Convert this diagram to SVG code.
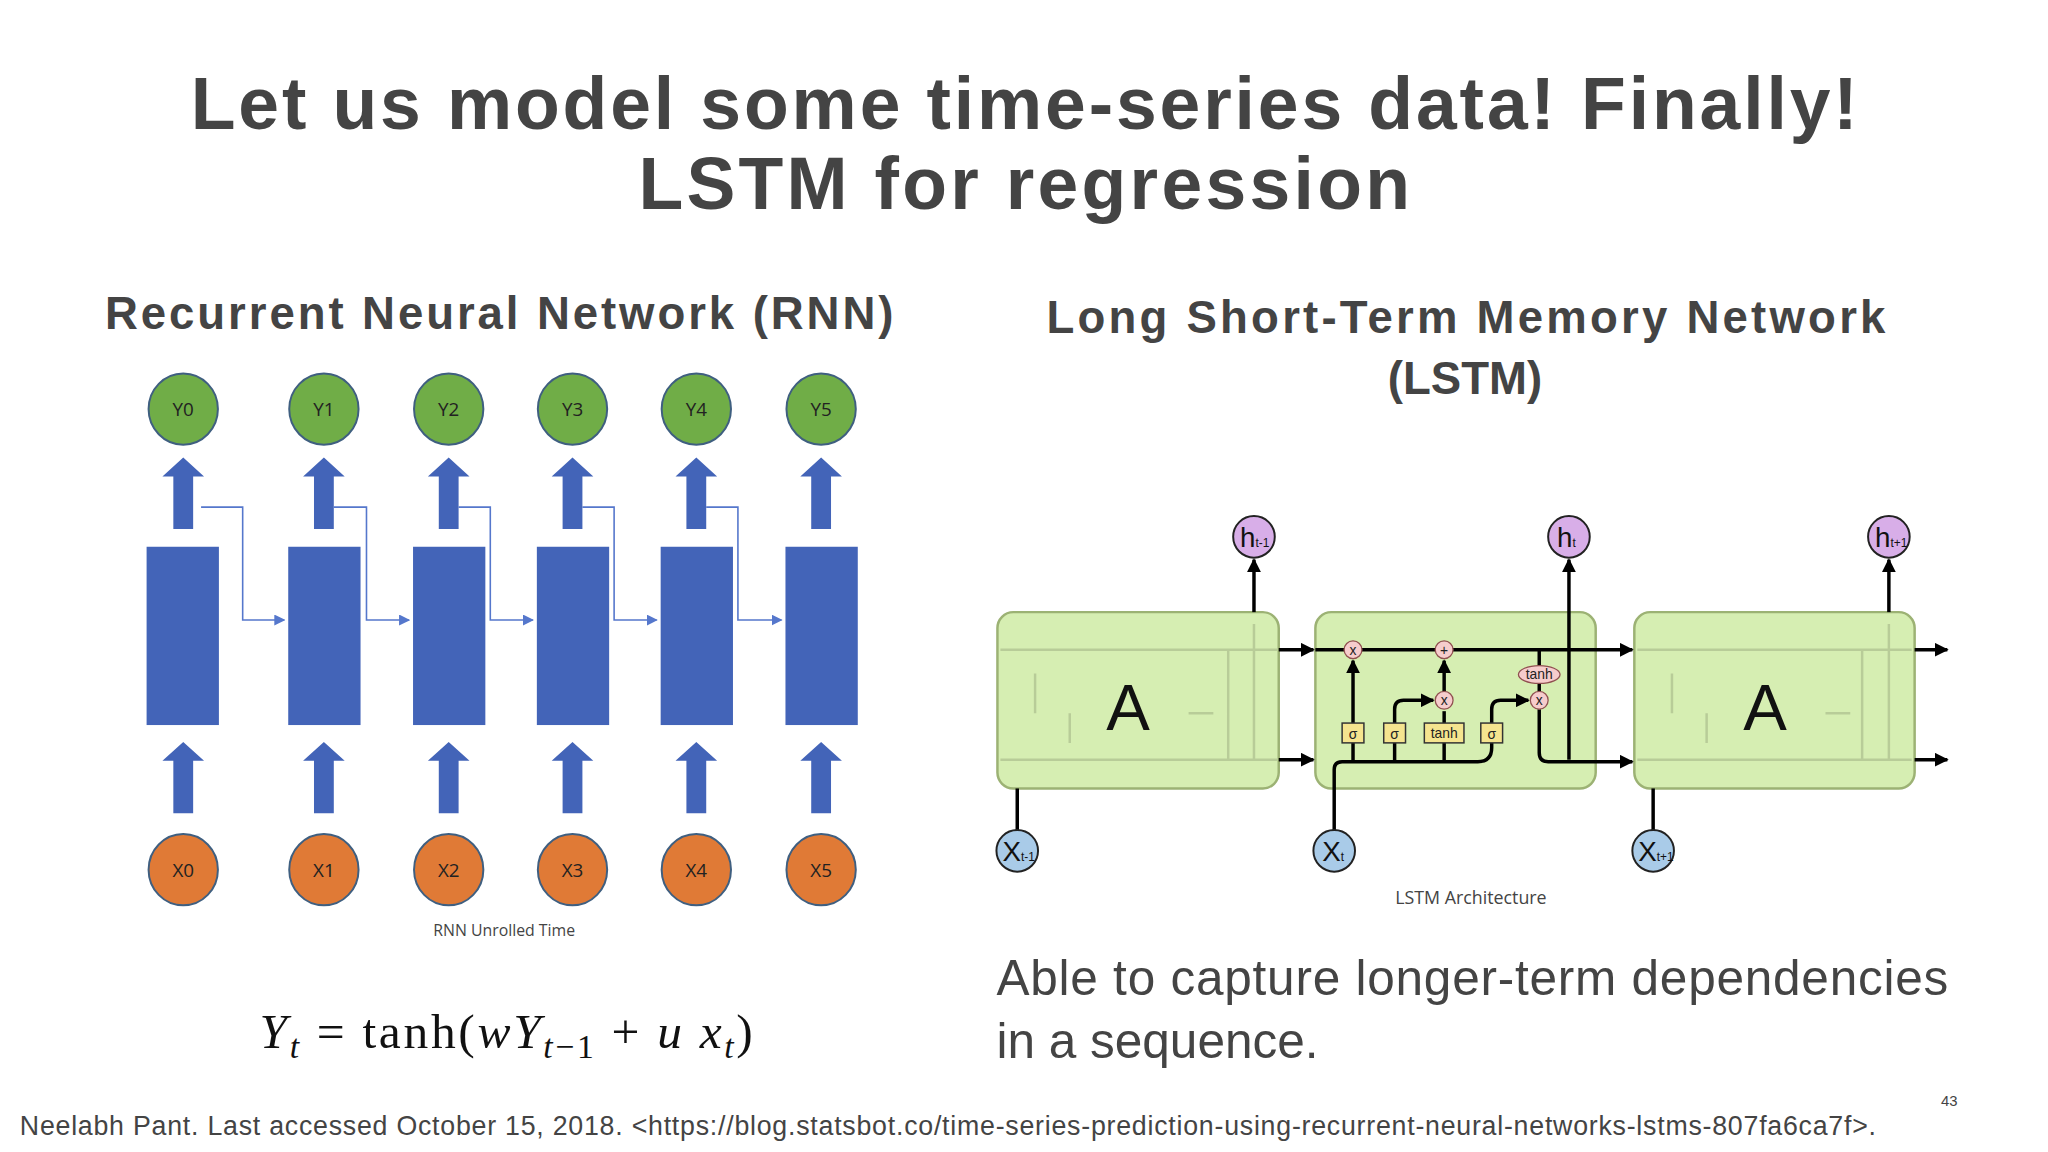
<svg xmlns="http://www.w3.org/2000/svg" width="2048" height="1152" viewBox="0 0 2048 1152">
<defs>
<style>
.t{font-family:"Liberation Sans",Arial,sans-serif;fill:#444}
.b{font-weight:bold}
.yc{fill:#70ad47;stroke:#3f5f80;stroke-width:2}
.xc{fill:#e07a36;stroke:#3f5f80;stroke-width:2}
.cl{font-family:"Open Sans","DejaVu Sans",sans-serif;font-size:19px;fill:#222;text-anchor:middle}
.bar{fill:#4364b8}
.rl{fill:none;stroke:#5577cc;stroke-width:1.6}
.box{fill:#d6eeb2;stroke:#9cb274;stroke-width:2.5}
.ln{fill:none;stroke:#000;stroke-width:3.5}
.fl{fill:none;stroke:#b8cc98;stroke-width:2.5}
.op{fill:#f6cccc;stroke:#905050;stroke-width:1.3}
.g{fill:#f5e48f;stroke:#333;stroke-width:1.5}
.sm{font-family:"Liberation Sans",sans-serif;font-size:14px;fill:#222;text-anchor:middle}
.hc{fill:#d8aee8;stroke:#222;stroke-width:2}
.xb{fill:#a9cbe8;stroke:#222;stroke-width:2}
.lt{font-family:"Liberation Sans Narrow","Liberation Sans",sans-serif;fill:#111}
</style>
<marker id="bh" viewBox="0 0 10 10" refX="9" refY="5" markerWidth="7" markerHeight="7" orient="auto"><path d="M0,0L10,5L0,10z" fill="#5577cc"/></marker>
<marker id="kh" viewBox="0 0 10 10" refX="9" refY="5" markerWidth="4" markerHeight="4" orient="auto"><path d="M0,0L10,5L0,10z" fill="#000"/></marker>
<path id="ua" d="M-10,0V-53H-21L0,-72L21,-53H10V0z" class="bar"/>
</defs>
<rect width="2048" height="1152" fill="#fff"/>
<g transform="scale(0.9905)">
<text class="t b" x="1034" y="130" font-size="74" text-anchor="middle" textLength="1683">Let us model some time-series data! Finally!</text>
<text class="t b" x="1034" y="211" font-size="74" text-anchor="middle" textLength="779">LSTM for regression</text>
<text class="t b" x="504" y="332" font-size="46" text-anchor="middle" textLength="796">Recurrent Neural Network (RNN)</text>
<text class="t b" x="1480" y="336" font-size="46" text-anchor="middle" textLength="847">Long Short-Term Memory Network</text>
<text class="t b" x="1479" y="398" font-size="46" text-anchor="middle">(LSTM)</text>

<g id="rnn">
<g id="connectors-rnn">
<path class="rl" d="M203,512H245V626H287" marker-end="url(#bh)"/>
<path class="rl" d="M337,512H370V626H413" marker-end="url(#bh)"/>
<path class="rl" d="M463,512H495V626H538" marker-end="url(#bh)"/>
<path class="rl" d="M588,512H620V626H663" marker-end="url(#bh)"/>
<path class="rl" d="M713,512H745V626H789" marker-end="url(#bh)"/>
</g>
<g id="cols">
<g id="c0"><ellipse class="yc" cx="185" cy="413" rx="35" ry="36"/><text class="cl" x="185" y="420">Y0</text><use href="#ua" x="185" y="534"/><rect class="bar" x="148" y="552" width="73" height="180"/><use href="#ua" x="185" y="821"/><ellipse class="xc" cx="185" cy="878" rx="35" ry="36"/><text class="cl" x="185" y="885">X0</text></g>
<g id="c1"><ellipse class="yc" cx="327" cy="413" rx="35" ry="36"/><text class="cl" x="327" y="420">Y1</text><use href="#ua" x="327" y="534"/><rect class="bar" x="291" y="552" width="73" height="180"/><use href="#ua" x="327" y="821"/><ellipse class="xc" cx="327" cy="878" rx="35" ry="36"/><text class="cl" x="327" y="885">X1</text></g>
<g id="c2"><ellipse class="yc" cx="453" cy="413" rx="35" ry="36"/><text class="cl" x="453" y="420">Y2</text><use href="#ua" x="453" y="534"/><rect class="bar" x="417" y="552" width="73" height="180"/><use href="#ua" x="453" y="821"/><ellipse class="xc" cx="453" cy="878" rx="35" ry="36"/><text class="cl" x="453" y="885">X2</text></g>
<g id="c3"><ellipse class="yc" cx="578" cy="413" rx="35" ry="36"/><text class="cl" x="578" y="420">Y3</text><use href="#ua" x="578" y="534"/><rect class="bar" x="542" y="552" width="73" height="180"/><use href="#ua" x="578" y="821"/><ellipse class="xc" cx="578" cy="878" rx="35" ry="36"/><text class="cl" x="578" y="885">X3</text></g>
<g id="c4"><ellipse class="yc" cx="703" cy="413" rx="35" ry="36"/><text class="cl" x="703" y="420">Y4</text><use href="#ua" x="703" y="534"/><rect class="bar" x="667" y="552" width="73" height="180"/><use href="#ua" x="703" y="821"/><ellipse class="xc" cx="703" cy="878" rx="35" ry="36"/><text class="cl" x="703" y="885">X4</text></g>
<g id="c5"><ellipse class="yc" cx="829" cy="413" rx="35" ry="36"/><text class="cl" x="829" y="420">Y5</text><use href="#ua" x="829" y="534"/><rect class="bar" x="793" y="552" width="73" height="180"/><use href="#ua" x="829" y="821"/><ellipse class="xc" cx="829" cy="878" rx="35" ry="36"/><text class="cl" x="829" y="885">X5</text></g>
</g>
<text x="509" y="945" font-family="'Open Sans',sans-serif" font-size="16" fill="#444" text-anchor="middle">RNN Unrolled Time</text>
</g>

<text x="262" y="1058" font-family="'Liberation Serif',serif" font-size="50" fill="#111" textLength="498" lengthAdjust="spacing"><tspan font-style="italic">Y</tspan><tspan font-style="italic" font-size="34" dy="10">t</tspan><tspan dy="-10">  =  tanh(</tspan><tspan font-style="italic">wY</tspan><tspan font-style="italic" font-size="34" dy="10">t</tspan><tspan font-size="34">−1</tspan><tspan dy="-10"> + </tspan><tspan font-style="italic">u x</tspan><tspan font-style="italic" font-size="34" dy="10">t</tspan><tspan dy="-10">)</tspan></text>

<g id="lstm">
<g id="box1"><rect class="box" x="1007" y="618" width="284" height="178" rx="16"/>
<path class="fl" d="M1010,656H1290M1010,767H1290M1240,656V767M1266,630V767M1045,720V680M1080,750V720M1200,720H1225"/>
<text class="lt" x="1139" y="737" font-size="66" text-anchor="middle">A</text></g>
<g id="box2"><rect class="box" x="1328" y="618" width="283" height="178" rx="16"/></g>
<g id="box3"><rect class="box" x="1650" y="618" width="283" height="178" rx="16"/>
<path class="fl" d="M1653,656H1930M1653,767H1930M1880,656V767M1907,630V767M1688,720V680M1723,750V720M1843,720H1868"/>
<text class="lt" x="1782" y="737" font-size="66" text-anchor="middle">A</text></g>

<g id="connectors">
<path class="ln" d="M1291,656H1326" marker-end="url(#kh)"/>
<path class="ln" d="M1291,767H1326" marker-end="url(#kh)"/>
<path class="ln" d="M1328,656H1648" marker-end="url(#kh)"/>
<path class="ln" d="M1933,656H1966" marker-end="url(#kh)"/>
<path class="ln" d="M1933,767H1966" marker-end="url(#kh)"/>
<path class="ln" d="M1266,618V565" marker-end="url(#kh)"/>
<path class="ln" d="M1907,618V565" marker-end="url(#kh)"/>
<path class="ln" d="M1584,767V565" marker-end="url(#kh)"/>
<path class="ln" d="M1027,838V796"/>
<path class="ln" d="M1669,838V796"/>
<path class="ln" d="M1347,838V777Q1347,769 1355,769H1492Q1506,769 1506,755V750"/>
<path class="ln" d="M1366,769V750M1408,769V750M1458,769V750"/>
<path class="ln" d="M1366,730V667" marker-end="url(#kh)"/>
<path class="ln" d="M1408,730V716Q1408,707 1417,707H1447" marker-end="url(#kh)"/>
<path class="ln" d="M1458,730V718"/>
<path class="ln" d="M1458,698V667" marker-end="url(#kh)"/>
<path class="ln" d="M1506,730V716Q1506,707 1515,707H1543" marker-end="url(#kh)"/>
<path class="ln" d="M1554,656V672"/>
<path class="ln" d="M1554,690V698"/>
<path class="ln" d="M1554,716V760Q1554,769 1563,769H1648" marker-end="url(#kh)"/>
</g>
<g id="ops">
<circle class="op" cx="1366" cy="656" r="9"/><text class="sm" x="1366" y="661">x</text>
<circle class="op" cx="1458" cy="656" r="9"/><text class="sm" x="1458" y="661">+</text>
<circle class="op" cx="1458" cy="707" r="9"/><text class="sm" x="1458" y="712">x</text>
<circle class="op" cx="1554" cy="707" r="9"/><text class="sm" x="1554" y="712">x</text>
<ellipse class="op" cx="1554" cy="681" rx="21" ry="9"/><text class="sm" x="1554" y="686" font-size="13">tanh</text>
</g>
<g id="gates">
<rect class="g" x="1355" y="730" width="22" height="20"/><text class="sm" x="1366" y="746" font-size="17">σ</text>
<rect class="g" x="1397" y="730" width="22" height="20"/><text class="sm" x="1408" y="746" font-size="17">σ</text>
<rect class="g" x="1438" y="730" width="40" height="20"/><text class="sm" x="1458" y="745" font-size="13">tanh</text>
<rect class="g" x="1495" y="730" width="22" height="20"/><text class="sm" x="1506" y="746" font-size="17">σ</text>
</g>
<g id="hnodes">
<circle class="hc" cx="1266" cy="542" r="21"/><text class="lt" x="1252" y="552" font-size="28">h<tspan font-size="12">t-1</tspan></text>
<circle class="hc" cx="1584" cy="542" r="21"/><text class="lt" x="1572" y="552" font-size="28">h<tspan font-size="12">t</tspan></text>
<circle class="hc" cx="1907" cy="542" r="21"/><text class="lt" x="1893" y="552" font-size="28">h<tspan font-size="12">t+1</tspan></text>
</g>
<g id="xnodes">
<circle class="xb" cx="1027" cy="859" r="21"/><text class="lt" x="1012" y="869" font-size="28">X<tspan font-size="12">t-1</tspan></text>
<circle class="xb" cx="1347" cy="859" r="21"/><text class="lt" x="1335" y="869" font-size="28">X<tspan font-size="12">t</tspan></text>
<circle class="xb" cx="1669" cy="859" r="21"/><text class="lt" x="1654" y="869" font-size="28">X<tspan font-size="12">t+1</tspan></text>
</g>
<text x="1485" y="913" font-family="'Open Sans',sans-serif" font-size="18" fill="#444" text-anchor="middle">LSTM Architecture</text>
</g>

<text class="t" x="1006" y="1005" font-size="50" fill="#333" textLength="961">Able to capture longer-term dependencies</text>
<text class="t" x="1006" y="1068" font-size="50" fill="#333">in a sequence.</text>
<text class="t" x="20" y="1146" font-size="27" fill="#222" textLength="1874">Neelabh Pant. Last accessed October 15, 2018. &lt;https://blog.statsbot.co/time-series-prediction-using-recurrent-neural-networks-lstms-807fa6ca7f&gt;.</text>
<text class="t" x="1968" y="1117" font-size="15" fill="#aaa" text-anchor="middle">43</text>
</g>
</svg>
